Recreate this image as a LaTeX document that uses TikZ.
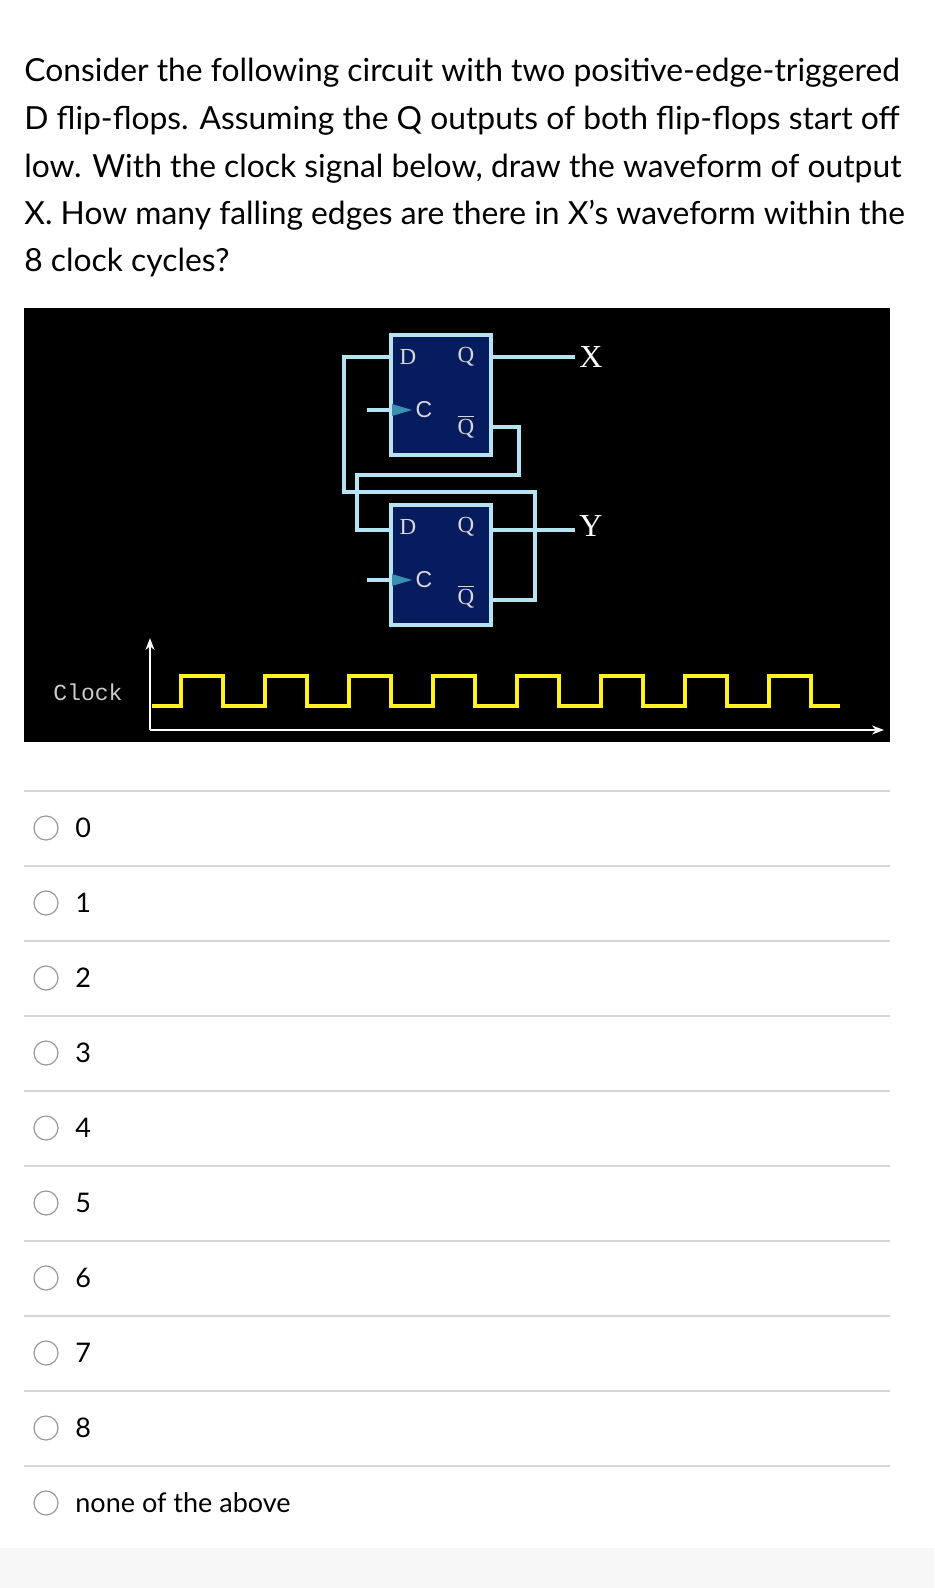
\documentclass[tikz,border=0pt]{standalone}
\usetikzlibrary{arrows.meta}
\usepackage{fontspec}
\setmainfont{Lato}
\newfontfamily\serifc{Liberation Serif}
\newfontfamily\sansc{Liberation Sans}
\newfontfamily\monoc{Liberation Mono}
\definecolor{wire}{HTML}{B4E4F2}
\definecolor{ffill}{HTML}{061C5E}
\definecolor{tri}{HTML}{3B8FB0}
\definecolor{clk}{HTML}{FFF21E}
\definecolor{sep}{HTML}{D6D6D6}
\tikzset{
 wireln/.style={draw=wire,line width=2.2pt},
 ffbox/.style={draw=wire,fill=ffill,line width=2.2pt},
 pin/.style={text=white!85!black,font=\serifc\fontsize{11.5}{13}\selectfont,inner sep=0pt},
 lab/.style={text=white,font=\serifc\fontsize{16}{18}\selectfont,inner sep=0pt},
 qtext/.style={anchor=base west,inner sep=0pt,font=\fontsize{15.9}{18}\selectfont},
 opt/.style={anchor=west,inner sep=0pt,font=\fontsize{13.5}{15}\selectfont},
 radio/.style={draw=gray!80,line width=0.6pt,fill=white},
 sepln/.style={draw=sep,line width=0.6pt}
}
\begin{document}
\begin{tikzpicture}[x=0.5pt,y=-0.5pt]
\useasboundingbox (0,0) rectangle (934,1588);
\fill[white] (0,0) rectangle (934,1588);
\fill[black!3] (0,1548) rectangle (934,1588);
% question
\node[qtext] (l1) at (24,82) {Consider the following circuit with two positive-edge-triggered};
\node[qtext] (l2) at (24,130) {D flip-flops. Assuming the Q outputs of both flip-flops start off};
\node[qtext] (l3) at (24,178) {low. With the clock signal below, draw the waveform of output};
\node[qtext] (l4) at (24,225) {X. How many falling edges are there in X\char"27 s waveform within the};
\node[qtext] (l5) at (24,272) {8 clock cycles?};
% black panel
\fill[black] (24,308) rectangle (890,742);
% wires
\draw[wireln] (391,357) -- (344,357) -- (344,492) -- (535,492) -- (535,600) -- (491,600);
\draw[wireln] (491,427) -- (519,427) -- (519,475) -- (357,475) -- (357,530) -- (391,530);
\draw[wireln] (491,357) -- (575,357);
\draw[wireln] (491,530) -- (575,530);
\draw[wireln] (367,410) -- (391,410);
\draw[wireln] (367,580) -- (391,580);
% flip-flops
\node[ffbox,minimum width=50pt,minimum height=60pt,inner sep=0pt] (ff1) at (441,395) {};
\node[ffbox,minimum width=50pt,minimum height=60pt,inner sep=0pt] (ff2) at (441,565) {};
\foreach \f/\y in {ff1/0,ff2/170}{
 \fill[tri] (392,404+\y) -- (412,410+\y) -- (392,416+\y) -- cycle;
 \node[pin] at (408,357+\y) {D};
 \node[pin] at (466,357+\y) {Q};
 \node[pin,font=\sansc\fontsize{11.5}{13}\selectfont] at (424,410+\y) {C};
 \node[pin] at (466,427+\y) {$\overline{\hbox{Q}}$};
}
\node[lab] (X) at (591,357) {X};
\node[lab] (Y) at (591,526) {Y};
% clock
\node[text=white!80!black,font=\monoc\fontsize{11.5}{13}\selectfont,inner sep=0pt] (clklab) at (88,692) {Clock};
\draw[white,line width=1.2pt,-{Stealth[length=6pt]}] (150,730) -- (150,638);
\draw[white,line width=1.2pt,-{Stealth[length=6pt]}] (150,730) -- (884,730);
\draw[clk,line width=2pt] (152,706) -- (181,706)
 \foreach \k in {0,...,7}{ -- ({181+84*\k},706) -- ({181+84*\k},676) -- ({223+84*\k},676) -- ({223+84*\k},706)} -- (840,706);
% options
\foreach \y in {791,866,941,1016,1091,1166,1241,1316,1391,1466}{\draw[sepln] (24,\y) -- (890,\y);}
\foreach \t [count=\i from 0] in {0,1,2,3,4,5,6,7,8,none of the above}{
 \draw[radio] (46,{828+75*\i}) circle (12);
 \node[opt] (o\i) at (75,{828+75*\i}) {\t};
}
\end{tikzpicture}
\end{document}
